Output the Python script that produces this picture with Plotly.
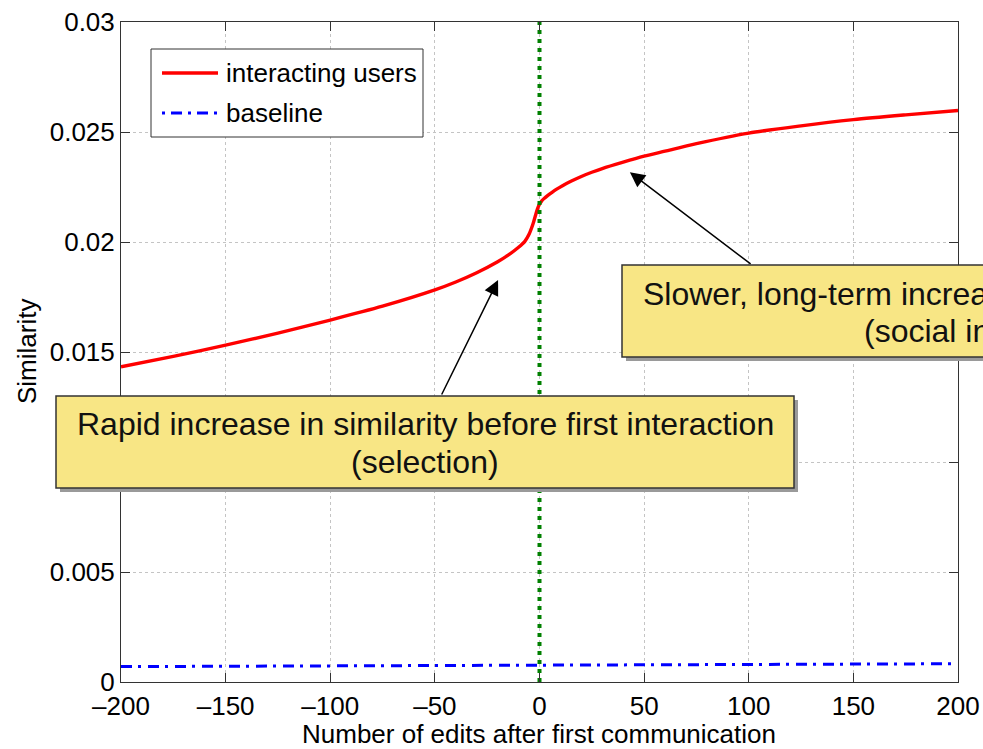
import plotly.graph_objects as go

# ---- data -------------------------------------------------------------
edits = [-200, -175, -150, -125, -100, -75, -50, -40, -30, -20, -15, -10, -7, -5,
         -3, -2, -1, 0, 1, 2, 4, 6, 8, 11, 15, 20, 25, 30, 40, 50, 60, 75, 100,
         125, 150, 175, 200]
interacting = [0.01433, 0.01480, 0.01531, 0.01586, 0.01645, 0.01708, 0.01782,
               0.01818, 0.01860, 0.01910, 0.01940, 0.01976, 0.02003, 0.02035,
               0.02085, 0.02118, 0.02150, 0.02172, 0.02186, 0.02196, 0.02212,
               0.02226, 0.02239, 0.02256, 0.02276, 0.02298, 0.02317, 0.02334,
               0.02363, 0.02390, 0.02413, 0.02447, 0.02495, 0.02528, 0.02556,
               0.02578, 0.02598]

baseline_edits = [-200, -100, 0, 100, 200]
baseline = [0.00070, 0.00073, 0.00077, 0.00080, 0.00083]

first_contact_x = [0, 0]
first_contact_y = [0, 0.03]

x_tick_vals = [-200, -150, -100, -50, 0, 50, 100, 150, 200]
x_tick_text = ["\u2013200", "\u2013150", "\u2013100", "\u201350", "0", "50", "100", "150", "200"]
y_tick_vals = [0, 0.005, 0.01, 0.015, 0.02, 0.025, 0.03]
y_tick_text = ["0", "0.005", "0.01", "0.015", "0.02", "0.025", "0.03"]

# ---- layout geometry (pixels) -----------------------------------------
W, H = 983, 749
L, R, T, B = 121, 958, 22, 682
FONT = "Liberation Sans, Arial, Helvetica, sans-serif"
AX = "#333333"


def px(x):
    return (x - L) / (R - L)


def py(y):
    return (B - y) / (B - T)


fig = go.Figure()

fig.add_trace(go.Scatter(x=edits, y=interacting, mode="lines", name="interacting users",
                         line=dict(color="#ff0000", width=3.4, shape="spline", smoothing=0.8),
                         showlegend=False))
fig.add_trace(go.Scatter(x=baseline_edits, y=baseline, mode="lines", name="baseline",
                         line=dict(color="#0000ff", width=3, dash="11px,6px,3px,7px"),
                         showlegend=False))
fig.add_trace(go.Scatter(x=first_contact_x, y=first_contact_y, mode="lines",
                         line=dict(color="#008000", width=4, dash="4px,5px"),
                         showlegend=False, hoverinfo="skip"))

shapes = []
annotations = []

# legend box
shapes.append(dict(type="rect", xref="paper", yref="paper", layer="above",
                   x0=px(151), x1=px(423), y0=py(137), y1=py(49),
                   fillcolor="white", line=dict(color=AX, width=1)))
shapes.append(dict(type="line", xref="paper", yref="paper", layer="above",
                   x0=px(162), x1=px(218), y0=py(73), y1=py(73),
                   line=dict(color="#ff0000", width=3.4)))
shapes.append(dict(type="line", xref="paper", yref="paper", layer="above",
                   x0=px(162), x1=px(220), y0=py(113), y1=py(113),
                   line=dict(color="#0000ff", width=3, dash="3px,6px,11px,6px")))
for label, yy in (("interacting users", 73), ("baseline", 113)):
    annotations.append(dict(xref="paper", yref="paper", x=px(224), y=py(yy),
                            xanchor="left", yanchor="middle", showarrow=False,
                            text=label, font=dict(family=FONT, size=26, color="black")))

# callout boxes with drop shadow
def callout(x0, y0, x1, y1):
    shapes.append(dict(type="rect", xref="paper", yref="paper", layer="above",
                       x0=px(x0 + 4), x1=px(x1 + 4), y0=py(y1 + 4), y1=py(y0 + 4),
                       fillcolor="#9a9a9a", line=dict(width=0)))
    shapes.append(dict(type="rect", xref="paper", yref="paper", layer="above",
                       x0=px(x0), x1=px(x1), y0=py(y1), y1=py(y0),
                       fillcolor="#f8e685", line=dict(color="#333333", width=1.5)))


callout(56, 396, 794, 488)
callout(622, 265, 1200, 357)

box_font = dict(family=FONT, size=32, color="#111111")
annotations.append(dict(xref="paper", yref="paper", x=px(425), y=py(424), xanchor="center",
                        yanchor="middle", showarrow=False, font=box_font,
                        text="Rapid increase in similarity before first interaction"))
annotations.append(dict(xref="paper", yref="paper", x=px(425), y=py(462), xanchor="center",
                        yanchor="middle", showarrow=False, font=box_font, text="(selection)"))
annotations.append(dict(xref="paper", yref="paper", x=px(641), y=py(294), xanchor="left",
                        yanchor="middle", showarrow=False, font=box_font,
                        text="Slower, long-term increase after first interaction"))
annotations.append(dict(xref="paper", yref="paper", x=px(862), y=py(331), xanchor="left",
                        yanchor="middle", showarrow=False, font=box_font,
                        text="(social influence)"))

# arrows pointing at the curve (data coordinates)
for (tx, ty), (sx, sy) in (((-19.8, 0.01827), (-47.1, 0.0130)),
                           ((43.2, 0.02317), (101.6, 0.01895))):
    annotations.append(dict(x=tx, y=ty, ax=sx, ay=sy, xref="x", yref="y",
                            axref="x", ayref="y", text="", showarrow=True,
                            arrowhead=2, arrowsize=2, arrowwidth=1.5,
                            arrowcolor="black", standoff=0, startstandoff=0))

# axis titles
annotations.append(dict(xref="paper", yref="paper", x=px(539), y=py(734),
                        xanchor="center", yanchor="middle", showarrow=False,
                        text="Number of edits after first communication",
                        font=dict(family=FONT, size=26, color="black")))
annotations.append(dict(xref="paper", yref="paper", x=px(27), y=py(352),
                        xanchor="center", yanchor="middle", showarrow=False, textangle=-90,
                        text="Similarity", font=dict(family=FONT, size=26, color="black")))

axis_common = dict(showline=True, linecolor=AX, linewidth=1, mirror="allticks",
                   ticks="inside", ticklen=9, tickwidth=1, tickcolor=AX,
                   showgrid=True, gridcolor="#c4c4c4", gridwidth=1, griddash="dot",
                   zeroline=False, automargin=False,
                   tickfont=dict(family=FONT, size=26, color="black"))

fig.update_xaxes(range=[-200, 200], tickvals=x_tick_vals, ticktext=x_tick_text,
                 ticklabelstandoff=1, **axis_common)
fig.update_yaxes(range=[0, 0.03], tickvals=y_tick_vals, ticktext=y_tick_text,
                 ticklabelstandoff=0, **axis_common)

fig.update_layout(width=W, height=H, margin=dict(l=L, r=W - R, t=T, b=H - B),
                  paper_bgcolor="white", plot_bgcolor="white",
                  shapes=shapes, annotations=annotations, showlegend=False,
                  font=dict(family=FONT))

fig.write_html("out.html", config={"displayModeBar": False})
